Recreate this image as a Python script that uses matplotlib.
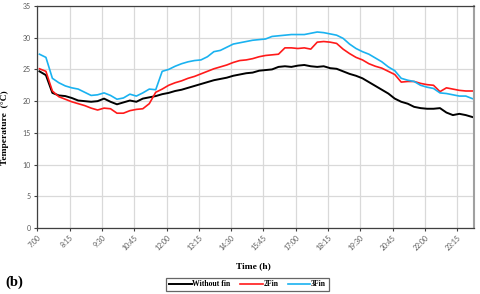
import numpy as np, pandas as pd
import matplotlib; matplotlib.use("Agg"); import matplotlib.pyplot as plt

# 15-min samples starting 7:05 (degC)
times = pd.date_range("2000-01-01 07:05", periods=68, freq="15min")
no_fin = [24.7,24.1,21.3,20.9,20.8,20.5,20.1,20.0,19.9,20.0,20.4,19.9,19.5,19.8,20.1,19.9,20.4,20.6,20.8,21.1,
          21.3,21.6,21.8,22.1,22.4,22.7,23.0,23.3,23.5,23.7,24.0,24.2,24.4,24.5,24.8,24.9,25.0,25.4,25.5,25.4,
          25.6,25.7,25.5,25.4,25.5,25.2,25.1,24.7,24.3,24.0,23.6,23.0,22.4,21.8,21.2,20.4,19.9,19.6,19.1,18.9,
          18.8,18.8,18.9,18.2,17.8,18.0,17.8,17.5]
fin2 = [25.1,24.7,21.6,20.7,20.3,19.9,19.6,19.3,18.9,18.6,18.9,18.8,18.1,18.1,18.5,18.7,18.8,19.6,21.4,21.9,
        22.5,22.9,23.2,23.6,23.9,24.3,24.7,25.1,25.4,25.7,26.1,26.4,26.5,26.7,27.0,27.2,27.3,27.4,28.4,28.4,
        28.3,28.4,28.2,29.3,29.4,29.3,29.1,28.2,27.5,26.9,26.5,25.9,25.5,25.2,24.7,24.2,23.0,23.1,23.1,22.8,
        22.6,22.5,21.5,22.1,21.9,21.7,21.6,21.6]
fin3 = [27.4,26.9,23.6,22.9,22.4,22.1,21.9,21.4,20.9,21.0,21.3,20.9,20.3,20.5,21.1,20.8,21.3,21.9,21.8,24.7,
        25.0,25.5,25.9,26.2,26.4,26.5,27.0,27.8,28.0,28.5,29.0,29.2,29.4,29.6,29.7,29.8,30.2,30.3,30.4,30.5,
        30.5,30.5,30.7,30.9,30.8,30.6,30.4,29.9,29.0,28.3,27.8,27.4,26.8,26.2,25.4,24.8,23.6,23.3,23.1,22.5,
        22.2,22.0,21.3,21.2,21.0,20.8,20.8,20.4]
tick_labels = ["7:00","8:15","9:30","10:45","12:00","13:15","14:30","15:45","17:00","18:15","19:30","20:45","22:00","23:15"]
y_ticks = [0,5,10,15,20,25,30,35]

x = (times - pd.Timestamp("2000-01-01 07:00")).total_seconds()/60
tick_pos = [75*i for i in range(len(tick_labels))]

serif = "Liberation Serif"; sans = "Lato"; tc = "#595959"
fig = plt.figure(figsize=(4.8,2.94), dpi=100)
ax = fig.add_axes([37.3/480, 1-228/294, (474-37.3)/480, (228-6)/294])
ax.plot(x, no_fin, color="black", lw=1.4, label="Without fin")
ax.plot(x, fin2, color="#ff1a1a", lw=1.2, label="2Fin")
ax.plot(x, fin3, color="#1ab2f0", lw=1.2, label="3Fin")
ax.set_xlim(0, 1014); ax.set_ylim(0, 35)
ax.set_xticks(tick_pos); ax.set_xticklabels(tick_labels, rotation=45, ha="right", va="top", rotation_mode="anchor")
ax.set_yticks(y_ticks)
ax.grid(True, color="#d9d9d9", lw=0.9); ax.set_axisbelow(True)
ax.tick_params(axis="both", length=2.5, width=0.8, color="#404040", labelsize=5, labelcolor=tc, pad=2)
for lab in ax.get_xticklabels()+ax.get_yticklabels(): lab.set_family(sans)
for s in ["left","bottom","top"]: ax.spines[s].set_color("#404040"); ax.spines[s].set_linewidth(0.9)
ax.spines["right"].set_color("#a0a0a0"); ax.spines["right"].set_linewidth(1.5)
ax.set_xlabel("Time (h)", family=serif, weight="bold", fontsize=6.8)
ax.xaxis.set_label_coords(0.495, -0.156)
ax.set_ylabel("Temperature  (\u00b0C)", family=serif, weight="bold", fontsize=6.8)
ax.yaxis.set_label_coords(-0.064, 0.45)
fig.text(5/480, 1-282/294, "(b)", family=serif, weight="bold", fontsize=10.5, va="center", ha="left")
leg = fig.legend(loc="center", bbox_to_anchor=(247.5/480, 1-284.5/294), ncol=3, frameon=True, fancybox=False,
                 prop={"family":serif,"weight":"bold","size":5.6}, handlelength=2.9, handletextpad=0.1,
                 columnspacing=1.2, borderpad=0.35, edgecolor="#404040")
leg.get_frame().set_linewidth(0.9)
fig.savefig("out.png", dpi=100)
